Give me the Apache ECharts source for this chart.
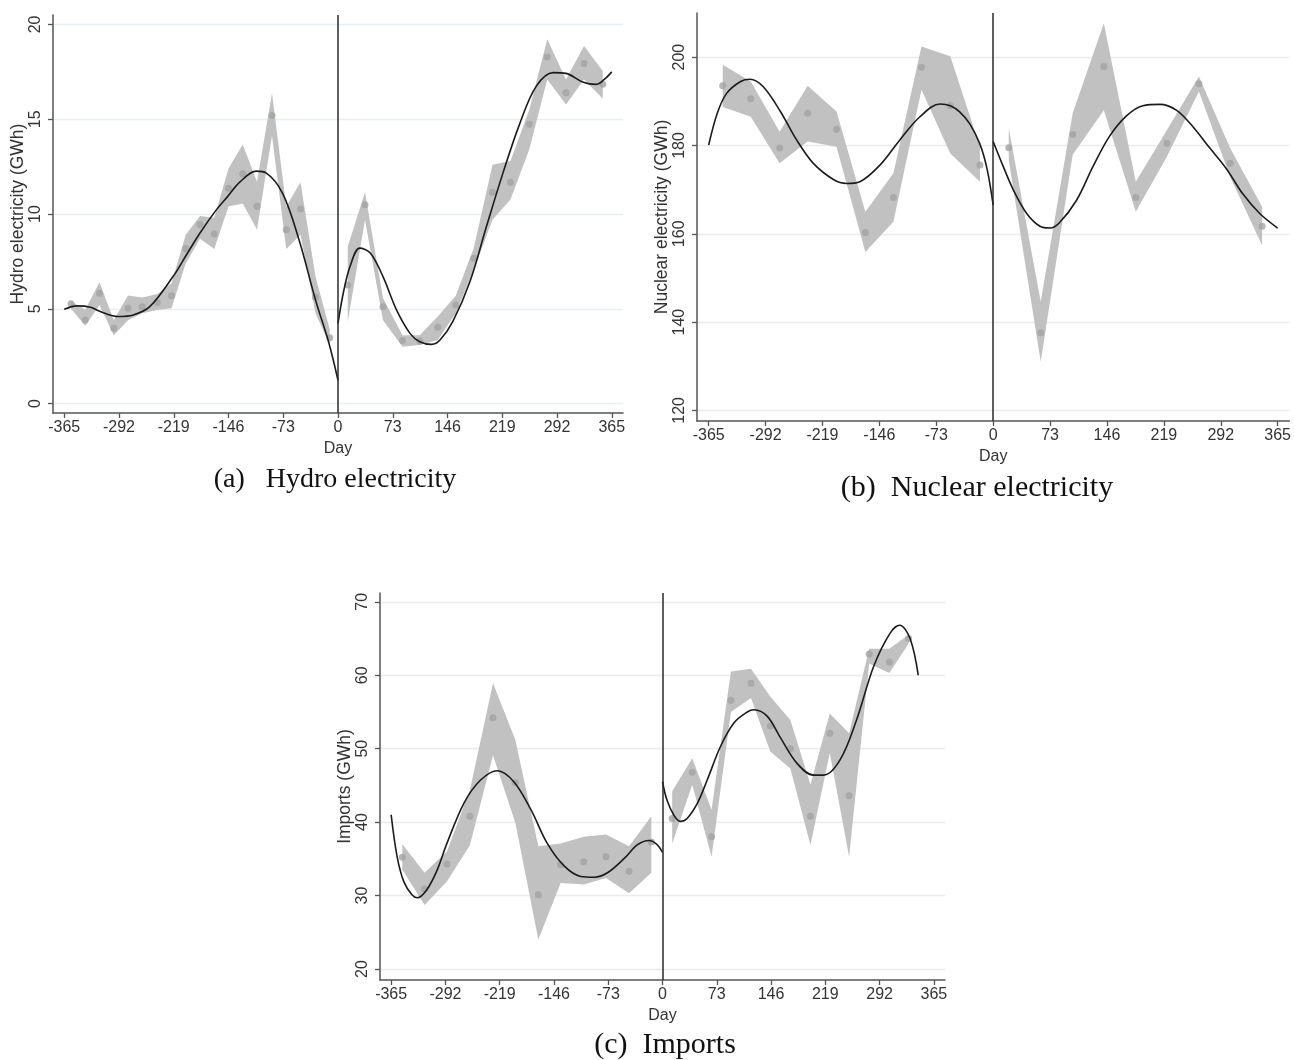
<!DOCTYPE html>
<html>
<head>
<meta charset="utf-8">
<title>Electricity generation around day 0</title>
<script src="https://cdn.jsdelivr.net/npm/echarts@6/dist/echarts.min.js"></script>
<style>
  html, body { margin: 0; background: #fff; }
  #chart { width: 1294px; height: 1060px; }
</style>
</head>
<body>
<div id="chart"></div>
<script>
// shared x ticks (days)
const dayTicks = [-365, -292, -219, -146, -73, 0, 73, 146, 219, 292, 365];

// (a) hydro electricity, GWh
const hydroTicks = [0, 5, 10, 15, 20];
const hydroBinL = [-356, -337, -318, -299, -280, -261, -241, -222, -203, -184, -165, -146, -127, -108, -88, -69, -50, -30, -11];
const hydroMeanL = [5.26, 4.41, 5.82, 3.97, 5.03, 5.11, 5.33, 5.68, 8.18, 9.44, 8.94, 11.36, 12.13, 10.41, 15.2, 9.17, 10.26, 5.61, 3.47];
const hydroLoL = [5.0, 4.1, 5.2, 3.6, 4.4, 4.76, 4.94, 5.03, 7.4, 8.7, 8.15, 10.4, 10.55, 9.17, 14.14, 8.15, 8.9, 4.76, 3.1];
const hydroHiL = [5.4, 4.95, 6.4, 4.4, 5.7, 5.6, 5.78, 6.35, 8.9, 9.9, 9.8, 12.4, 13.67, 11.7, 16.37, 10.4, 11.68, 6.7, 3.9];
const hydroBinR = [13, 36, 60, 86, 109, 133, 157, 181, 206, 230, 255, 279, 304, 328, 353];
const hydroMeanR = [6.26, 10.49, 5.11, 3.32, 3.3, 4.02, 5.2, 7.67, 11.15, 11.68, 14.74, 18.29, 16.4, 17.94, 16.84];
const hydroLoR = [4.32, 9.7, 4.4, 3.0, 3.09, 3.35, 4.76, 7.05, 9.7, 10.76, 13.4, 17.1, 15.78, 17.1, 16.08];
const hydroHiR = [8.29, 11.15, 5.56, 3.6, 3.6, 4.59, 5.68, 8.2, 12.6, 12.79, 15.5, 19.22, 17.1, 18.87, 17.55];
const hydroFitDaysL = [-365, -348, -330, -317, -293, -273, -251, -220, -202, -184, -162, -147, -131, -109, -96, -74, -52, -30, -12, 0];
const hydroFitL = [4.97, 5.15, 5.08, 4.85, 4.59, 4.67, 5.11, 6.7, 7.85, 9.0, 10.23, 10.93, 11.68, 12.26, 12.17, 11.1, 8.64, 5.47, 3.17, 1.23];
const hydroFitDaysR = [0, 7, 16, 29, 43, 60, 78, 96, 109, 125, 136, 153, 176, 198, 220, 242, 264, 287, 304, 326, 344, 355, 365];
const hydroFitR = [4.23, 5.82, 7.23, 8.2, 7.94, 6.7, 4.94, 3.7, 3.26, 3.12, 3.35, 4.32, 6.44, 9.35, 12.17, 14.73, 16.72, 17.46, 17.42, 16.97, 16.84, 17.1, 17.5];

// (b) nuclear electricity, GWh
const nucTicks = [120, 140, 160, 180, 200];
const nucBinL = [-347, -311, -274, -238, -201, -164, -128, -92, -55, -17];
const nucMeanL = [193.5, 190.6, 179.4, 187.3, 183.7, 160.3, 168.2, 197.7, 189.0, 175.6];
const nucLoL = [188.7, 186.5, 176, 180.9, 179.7, 155.9, 162.7, 192.6, 178.2, 171.8];
const nucHiL = [198.3, 194.5, 183.1, 193.5, 187.7, 165, 173.7, 202.4, 200.2, 179.7];
const nucBinR = [20, 61, 102, 142, 183, 223, 264, 304, 345];
const nucMeanR = [179.5, 137.6, 182.5, 197.9, 168.2, 180.5, 194, 176, 161.7];
const nucLoR = [176.7, 131, 177.9, 188, 165, 177.5, 192.2, 172.9, 157.4];
const nucHiR = [183.9, 144.6, 187.3, 207.7, 171.8, 183.5, 195.6, 179.4, 166.1];
const nucFitDaysL = [-365, -354, -342, -324, -312, -295, -273, -252, -231, -205, -188, -171, -145, -120, -94, -68, -55, -43, -30, -17, -8, 0];
const nucFitL = [180.1, 187.3, 191.8, 194.5, 195, 193.3, 187.7, 181.2, 176, 172.3, 171.4, 171.8, 175.6, 181.2, 186.5, 189.4, 189.0, 187.6, 184.9, 180.3, 174.8, 166.5];
const nucFitDaysR = [0, 13, 26, 43, 60, 73, 85, 107, 128, 149, 171, 192, 214, 235, 256, 278, 299, 320, 342, 365];
const nucFitR = [180.9, 175.2, 169.9, 164.6, 161.7, 161.3, 162.5, 167.6, 175.2, 182, 186.7, 189, 189.3, 188, 184.3, 179.4, 174.8, 169.1, 164.6, 161.3];

// (c) imports, GWh
const impTicks = [20, 30, 40, 50, 60, 70];
const impBinL = [-350, -320, -290, -259, -228, -198, -167, -137, -106, -76, -45, -15];
const impMeanL = [35.2, 30.9, 34.3, 40.8, 54.2, 45.4, 30.1, 34.2, 34.6, 35.3, 33.3, 37.3];
const impLoL = [33.5, 28.7, 31.9, 36.9, 49.1, 39.9, 24, 31.7, 31.5, 32.4, 30.3, 33.1];
const impHiL = [37, 33.1, 36, 44.4, 58.9, 51.2, 36.7, 37.1, 38, 38.3, 36.7, 40.8];
const impBinR = [13, 40, 66, 92, 119, 145, 172, 199, 225, 251, 278, 305, 331];
const impMeanR = [40.5, 46.8, 38, 56.6, 58.9, 53.1, 50, 40.8, 52.1, 43.6, 62.9, 61.8, 65];
const impLoR = [37.1, 45.1, 35.3, 55, 56.9, 49.6, 47.3, 36.9, 49.4, 35.3, 61.6, 60.3, 64.3];
const impHiR = [44.2, 48.7, 41.7, 60.5, 60.9, 57.1, 53.9, 45.1, 54.8, 52.1, 63.6, 63.6, 65.5];
const impFitDaysL = [-365, -357, -348, -337, -330, -317, -303, -290, -267, -245, -222, -200, -177, -155, -132, -110, -92, -74, -51, -34, -18, -8, 0];
const impFitL = [41, 35.3, 31.9, 30.1, 29.7, 30.8, 33.5, 37.1, 42.6, 45.7, 47, 45.5, 41.7, 37.1, 34, 32.6, 32.5, 33.1, 35.1, 36.9, 37.5, 37.0, 35.9];
const impFitDaysR = [0, 6, 15, 24, 33, 47, 60, 78, 96, 114, 123, 141, 158, 181, 203, 217, 239, 261, 284, 306, 319, 333, 344];
const impFitR = [45.5, 43, 41, 40.1, 40.5, 42.6, 45.7, 50.3, 53.5, 55, 55.3, 54.4, 51.6, 48, 46.4, 46.4, 48.5, 53.9, 61.2, 65.7, 66.8, 65, 60];

const SANS = '"Liberation Sans", Arial, sans-serif';
const SERIF = '"Liberation Serif", "Times New Roman", serif';

const panels = [
  {
    grid: { left: 53, top: 15, width: 570, height: 398 },
    yMin: -0.5, yMax: 20.5, yTicks: hydroTicks, gridColor: '#e7eef4',
    yName: 'Hydro electricity (GWh)',
    left: [hydroBinL, hydroMeanL, hydroLoL, hydroHiL, hydroFitDaysL, hydroFitL],
    right: [hydroBinR, hydroMeanR, hydroLoR, hydroHiR, hydroFitDaysR, hydroFitR]
  },
  {
    grid: { left: 697, top: 13, width: 593, height: 408 },
    yMin: 117.6, yMax: 210, yTicks: nucTicks, gridColor: '#ebebeb',
    yName: 'Nuclear electricity (GWh)',
    left: [nucBinL, nucMeanL, nucLoL, nucHiL, nucFitDaysL, nucFitL],
    right: [nucBinR, nucMeanR, nucLoR, nucHiR, nucFitDaysR, nucFitR]
  },
  {
    grid: { left: 380, top: 593, width: 565, height: 387 },
    yMin: 18.5, yMax: 71.2, yTicks: impTicks, gridColor: '#ebebeb',
    yName: 'Imports (GWh)',
    left: [impBinL, impMeanL, impLoL, impHiL, impFitDaysL, impFitL],
    right: [impBinR, impMeanR, impLoR, impHiR, impFitDaysR, impFitR]
  }
];

// confidence band: one polygon through upper edge, back along lower edge
function bandSeries(idx, days, lo, hi) {
  return {
    type: 'custom',
    xAxisIndex: idx,
    yAxisIndex: idx,
    silent: true,
    z: 1,
    data: days.map((d, i) => [d, lo[i], hi[i]]),
    encode: { x: 0, y: [1, 2] },
    renderItem: (params, api) => {
      if (params.dataIndex !== 0) return null;
      const top = days.map((d, i) => api.coord([d, hi[i]]));
      const bottom = days.map((d, i) => api.coord([d, lo[i]])).reverse();
      return {
        type: 'polygon',
        shape: { points: top.concat(bottom) },
        style: { fill: '#c1c1c1' }
      };
    }
  };
}

function sideSeries(idx, side, withZeroLine) {
  const [bins, means, lo, hi, fitDays, fit] = side;
  const out = [
    bandSeries(idx, bins, lo, hi),
    {
      type: 'scatter',
      xAxisIndex: idx,
      yAxisIndex: idx,
      silent: true,
      z: 2,
      symbolSize: 7,
      itemStyle: { color: '#a2a2a2' },
      data: bins.map((d, i) => [d, means[i]])
    },
    {
      type: 'line',
      xAxisIndex: idx,
      yAxisIndex: idx,
      silent: true,
      z: 3,
      smooth: 0.35,
      showSymbol: false,
      lineStyle: { color: '#1b1b1b', width: 1.6 },
      data: fitDays.map((d, i) => [d, fit[i]])
    }
  ];
  if (withZeroLine) {
    out[2].markLine = {
      silent: true,
      symbol: 'none',
      label: { show: false },
      lineStyle: { color: '#2a2a2a', width: 1.5, type: 'solid' },
      data: [{ xAxis: 0 }]
    };
  }
  return out;
}

const grids = [], xAxes = [], yAxes = [], series = [];
panels.forEach((p, idx) => {
  grids.push(p.grid);
  xAxes.push({
    type: 'value',
    gridIndex: idx,
    min: -380,
    max: 380,
    name: 'Day',
    nameLocation: 'middle',
    nameGap: 28,
    nameTextStyle: { fontFamily: SANS, fontSize: 16, color: '#333' },
    axisLine: { onZero: false, lineStyle: { color: '#555', width: 1.5 } },
    axisTick: { length: 5, lineStyle: { color: '#555', width: 1.3 }, customValues: dayTicks },
    axisLabel: { customValues: dayTicks, margin: 7, fontFamily: SANS, fontSize: 16, color: '#333' },
    splitLine: { show: false }
  });
  yAxes.push({
    type: 'value',
    gridIndex: idx,
    min: p.yMin,
    max: p.yMax,
    name: p.yName,
    nameLocation: 'middle',
    nameGap: 24,
    nameTextStyle: { fontFamily: SANS, fontSize: 17.5, color: '#333' },
    axisLine: { show: true, onZero: false, lineStyle: { color: '#555', width: 1.5 } },
    axisTick: { show: true, length: 5, lineStyle: { color: '#555', width: 1.3 }, customValues: p.yTicks },
    axisLabel: { customValues: p.yTicks, rotate: 90, margin: 9, fontFamily: SANS, fontSize: 16, color: '#333' },
    splitLine: { show: true, lineStyle: { color: p.gridColor, width: 1.3 } }
  });
  series.push(...sideSeries(idx, p.left, true), ...sideSeries(idx, p.right, false));
});

const chart = echarts.init(document.getElementById('chart'), null, { renderer: 'canvas' });

chart.setOption({
  animation: false,
  backgroundColor: '#ffffff',
  grid: grids,
  xAxis: xAxes,
  yAxis: yAxes,
  series: series,
  graphic: [
    { type: 'text', x: 335, y: 480, style: { text: '(a)   Hydro electricity', font: '28px ' + SERIF, fill: '#111', textAlign: 'center', textVerticalAlign: 'middle' } },
    { type: 'text', x: 977, y: 488, style: { text: '(b)  Nuclear electricity', font: '30px ' + SERIF, fill: '#111', textAlign: 'center', textVerticalAlign: 'middle' } },
    { type: 'text', x: 665, y: 1045, style: { text: '(c)  Imports', font: '30px ' + SERIF, fill: '#111', textAlign: 'center', textVerticalAlign: 'middle' } }
  ]
});

window.addEventListener('resize', () => chart.resize());
</script>
</body>
</html>
